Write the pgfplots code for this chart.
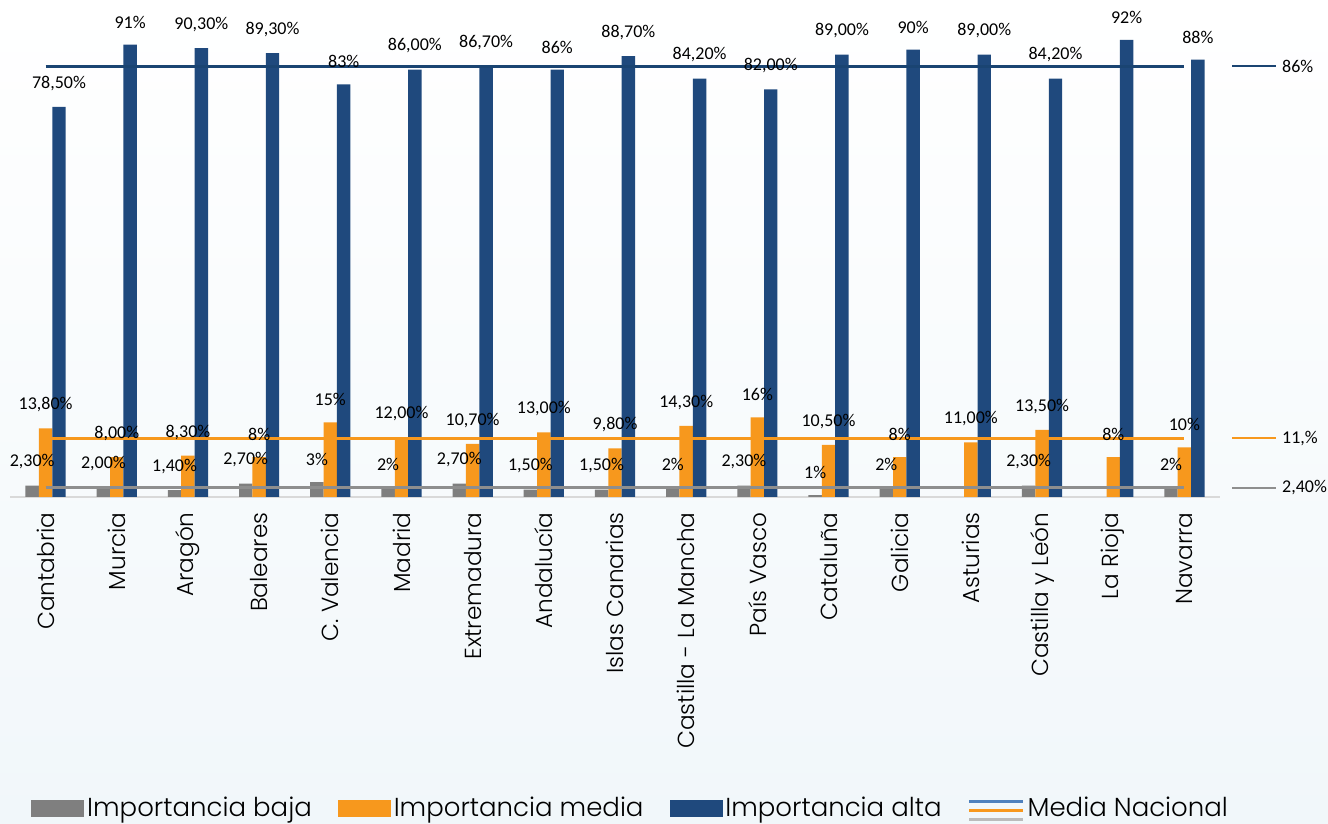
\documentclass[border=0pt]{standalone}
\usepackage{pgfplots}
\pgfplotsset{compat=1.18}
\usepackage{pgfplotstable}
\usepackage{fontspec}
\setmainfont{Carlito}
\newfontfamily\catfont{Poppins Light}
\definecolor{graybar}{HTML}{7F7F7F}
\definecolor{orangebar}{HTML}{F7981D}
\definecolor{navybar}{HTML}{1F497D}
\definecolor{navyline}{HTML}{1A4472}
\definecolor{grayline}{HTML}{8E8E8E}
\definecolor{legblue}{HTML}{4F81BD}
\definecolor{bgblue}{HTML}{F1F7FA}
\definecolor{baseline}{HTML}{D9D9D9}

% Importancia baja
\pgfplotstableread{
x y lab
0 2.3 2,30
1 2.0 2,00
2 1.4 1,40
3 2.7 2,70
4 3.0 3
5 2.0 2
6 2.7 2,70
7 1.5 1,50
8 1.5 1,50
9 2.0 2
10 2.3 2,30
11 0.4 1
12 2.0 2
14 2.3 2,30
16 2.0 2
}\baja
% Importancia media
\pgfplotstableread{
x y lab
0 13.8 13,80
1 8.0 8,00
2 8.3 8,30
3 8.0 8
4 15.0 15
5 12.0 12,00
6 10.7 10,70
7 13.0 13,00
8 9.8 9,80
9 14.3 14,30
10 16.0 16
11 10.5 10,50
12 8.0 8
13 11.0 11,00
14 13.5 13,50
15 8.0 8
16 10.0 10
}\media
% Importancia alta
\pgfplotstableread{
x y lab
0 78.5 78,50
1 91.0 91
2 90.3 90,30
3 89.3 89,30
4 83.0 83
5 86.0 86,00
6 86.7 86,70
7 86.0 86
8 88.7 88,70
9 84.2 84,20
10 82.0 82,00
11 89.0 89,00
12 90.0 90
13 89.0 89,00
14 84.2 84,20
15 92.0 92
16 88.0 88
}\alta

\begin{document}
\begin{tikzpicture}
\shade[top color=white, bottom color=bgblue] (0,0) rectangle (664pt,412pt);
\begin{axis}[
  at={(5pt,163.5pt)}, anchor=south west,
  scale only axis, width=605pt, height=248.5pt,
  xmin=-0.5, xmax=16.5, ymin=0, ymax=100,
  enlargelimits=false, clip=false,
  axis y line=none, axis x line*=bottom,
  x axis line style={draw=baseline, line width=1pt, -},
  xtick={0,...,16}, ytick=\empty, major tick length=0pt,
  xticklabels={Cantabria, Murcia, Aragón, Baleares, C. Valencia, Madrid, Extremadura, Andalucía, Islas Canarias, Castilla - La Mancha, País Vasco, Cataluña, Galicia, Asturias, Castilla y León, La Rioja, Navarra},
  xticklabel style={yshift=-7.5pt, rotate=90, anchor=east, inner sep=0pt, font=\catfont\fontsize{11.6}{13}\selectfont, text=black},
  bar width=6.7pt,
  every node near coord/.append style={font=\fontsize{9}{11}\selectfont, text=black, anchor=south, inner sep=1pt},
  legend style={at={(0.01736,-0.628)}, anchor=west, draw=none, fill=none, inner sep=0pt,
    legend columns=4, font=\catfont\fontsize{13}{14}\selectfont,
    /tikz/every odd column/.append style={column sep=0pt},
    /tikz/every even column/.append style={column sep=11.5pt},
    nodes={inner xsep=1.5pt, inner ysep=0pt}},
]
% bars
\addplot[ybar, bar shift=-6.7pt, fill=graybar, draw=none, forget plot] table[x=x, y=y] {\baja};
\addplot[ybar, bar shift=0pt, fill=orangebar, draw=none, forget plot] table[x=x, y=y] {\media};
\addplot[ybar, bar shift=6.7pt, fill=navybar, draw=none, forget plot] table[x=x, y=y] {\alta};
% media nacional lines
\addplot[navyline, line width=1.5pt, mark=none, forget plot] coordinates {(0,86.7) (16,86.7)};
\addplot[orangebar, line width=1.5pt, mark=none, forget plot] coordinates {(0,11.8) (16,11.8)};
\addplot[grayline, line width=1.5pt, mark=none, forget plot] coordinates {(0,1.9) (16,1.9)};
% labels on top
\addplot[ybar, bar shift=-6.7pt, draw=none, fill=none, forget plot, point meta=explicit symbolic,
  nodes near coords={\pgfplotspointmeta\%}, nodes near coords style={xshift=-6.7pt, yshift=7pt}] table[x=x, y=y, meta=lab] {\baja};
\addplot[ybar, bar shift=0pt, draw=none, fill=none, forget plot, point meta=explicit symbolic,
  nodes near coords={\pgfplotspointmeta\%}, nodes near coords style={yshift=7pt}] table[x=x, y=y, meta=lab] {\media};
\addplot[ybar, bar shift=6.7pt, draw=none, fill=none, forget plot, point meta=explicit symbolic,
  nodes near coords={\pgfplotspointmeta\%}, nodes near coords style={xshift=6.7pt, yshift=7pt}] table[x=x, y=y, meta=lab] {\alta};
% right-hand line labels
\addplot[navyline, line width=1pt, mark=none, forget plot] coordinates {(16.674,86.7) (17.29,86.7)} node[pos=1, anchor=west, inner sep=0pt, xshift=2.5pt, text=black, font=\fontsize{9}{11}\selectfont] {86\%};
\addplot[orangebar, line width=1pt, mark=none, forget plot] coordinates {(16.674,11.8) (17.29,11.8)} node[pos=1, anchor=west, inner sep=0pt, xshift=2.5pt, text=black, font=\fontsize{9}{11}\selectfont] {11,\%};
\addplot[grayline, line width=1pt, mark=none, forget plot] coordinates {(16.674,1.9) (17.29,1.9)} node[pos=1, anchor=west, inner sep=0pt, xshift=2.5pt, text=black, font=\fontsize{9}{11}\selectfont] {2,40\%};
% legend
\addlegendimage{legend image code/.code={\fill[graybar] (0pt,-4pt) rectangle (26pt,4pt);}}
\addlegendentry{Importancia baja}
\addlegendimage{legend image code/.code={\fill[orangebar] (0pt,-4pt) rectangle (26pt,4pt);}}
\addlegendentry{Importancia media}
\addlegendimage{legend image code/.code={\fill[navybar] (0pt,-4pt) rectangle (26pt,4pt);}}
\addlegendentry{Importancia alta}
\addlegendimage{legend image code/.code={
  \draw[legblue, line width=1.5pt] (0pt,3.5pt) -- (27pt,3.5pt);
  \draw[orangebar, line width=1.5pt] (0pt,-1pt) -- (27pt,-1pt);
  \draw[grayline!60, line width=1.5pt] (0pt,-5.5pt) -- (27pt,-5.5pt);}}
\addlegendentry{Media Nacional}
\end{axis}
\pgfresetboundingbox
\path[use as bounding box] (0,0) rectangle (664pt,412pt);
\end{tikzpicture}
\end{document}
